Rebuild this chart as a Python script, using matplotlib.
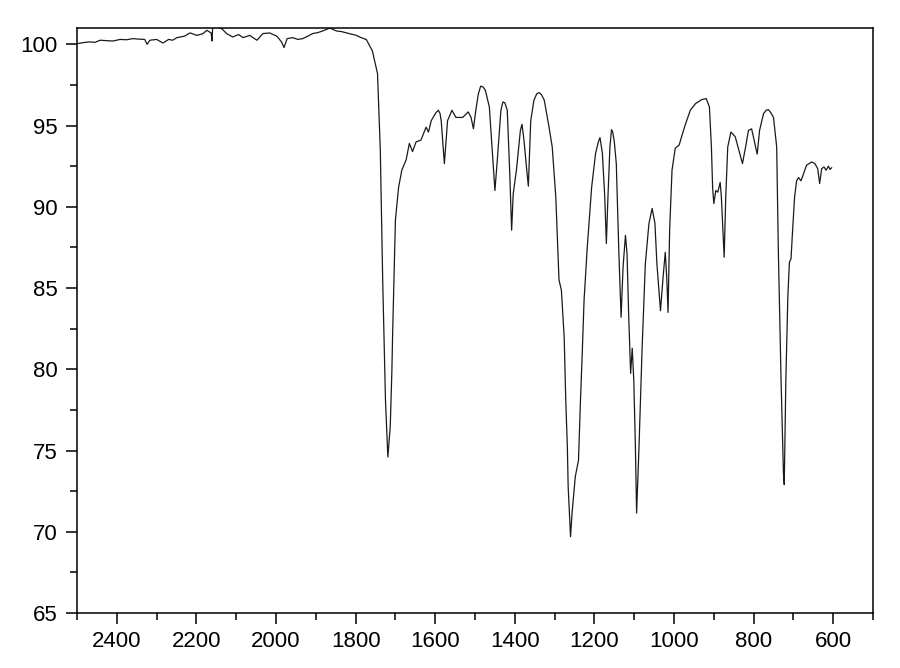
import matplotlib
matplotlib.use("Agg")
import matplotlib.pyplot as plt
from matplotlib.ticker import MultipleLocator

# IR spectrum (wavenumber cm-1, transmittance %)
wavenumber = [
    2500, 2485, 2470, 2455, 2442, 2425, 2410, 2392, 2375, 2360, 2345, 2330,
    2324, 2317, 2300, 2284, 2270, 2260, 2249, 2230, 2216, 2199, 2184, 2174,
    2163, 2161, 2159, 2146, 2136, 2124, 2109, 2094, 2083, 2066, 2048, 2033,
    2016, 1998, 1986, 1980, 1972, 1958, 1945, 1933, 1920, 1908, 1895, 1883,
    1865, 1848, 1835, 1823, 1810, 1798, 1790, 1773, 1758, 1745, 1738, 1732,
    1725, 1719, 1713, 1709, 1707, 1700, 1692, 1684, 1673, 1665, 1657, 1648,
    1636, 1623, 1617, 1610, 1598, 1592, 1588, 1585, 1577, 1569, 1558, 1548,
    1531, 1517, 1510, 1504, 1498, 1492, 1486, 1480, 1474, 1464, 1456, 1450,
    1444, 1435, 1430, 1425, 1419, 1413, 1408, 1404, 1396, 1386, 1382, 1377,
    1370, 1366, 1360, 1352, 1345, 1339, 1333, 1326, 1314, 1306, 1297, 1289,
    1283, 1276, 1272, 1268, 1266, 1260, 1256, 1248, 1240, 1235, 1230, 1226,
    1218, 1207, 1197, 1190, 1186, 1180, 1174, 1170, 1166, 1161, 1157, 1154,
    1150, 1145, 1139, 1133, 1128, 1122, 1118, 1114, 1109, 1105, 1101, 1097,
    1094, 1088, 1080, 1072, 1063, 1055, 1048, 1043, 1034, 1028, 1022, 1018,
    1015, 1011, 1005, 997, 987, 980, 971, 959, 946, 930, 919, 911,
    906, 903, 900, 895, 890, 884, 881, 877, 874, 870, 865, 857,
    851, 846, 835, 828, 820, 813, 805, 796, 791, 785, 775, 768,
    763, 757, 750, 742, 738, 731, 725, 723, 719, 714, 710, 706,
    702, 697, 692, 687, 681, 675, 667, 654, 646, 639, 634, 629,
    623, 618, 612, 608, 604,
]
transmittance = [
    100.04, 100.1, 100.15, 100.12, 100.25, 100.22, 100.2, 100.3, 100.28, 100.35, 100.32, 100.3,
    100.0, 100.25, 100.3, 100.08, 100.3, 100.25, 100.41, 100.5, 100.7, 100.55, 100.65, 100.86,
    100.7, 100.2, 101.1, 101.05, 100.95, 100.66, 100.45, 100.6, 100.41, 100.55, 100.25, 100.66,
    100.7, 100.5, 100.14, 99.8, 100.35, 100.41, 100.3, 100.35, 100.5, 100.66, 100.72, 100.82,
    101.0, 100.82, 100.78, 100.7, 100.62, 100.55, 100.45, 100.29, 99.6, 98.2, 93.5, 85.5,
    78.1, 74.6, 76.5, 79.8, 82.2, 89.2, 91.2, 92.25, 92.9, 93.9, 93.4, 94.0,
    94.1, 94.9, 94.6, 95.3, 95.8, 95.94, 95.75, 95.3, 92.66, 95.3, 95.94, 95.5,
    95.5, 95.84, 95.5, 94.8, 95.94, 96.9, 97.42, 97.38, 97.17, 96.14, 93.2, 91.0,
    92.87, 95.94, 96.45, 96.4, 95.94, 92.25, 88.56, 90.8, 92.25, 94.7, 95.08, 94.1,
    92.25, 91.27, 95.3, 96.56, 96.95, 97.03, 96.9, 96.56, 94.9, 93.68, 90.6, 85.5,
    84.87, 82.0, 78.1, 75.23, 72.8, 69.7, 71.2, 73.4, 74.4, 78.1, 81.4, 84.26,
    87.5, 91.2, 93.3, 94.0, 94.26, 93.3, 90.6, 87.74, 90.6, 93.7, 94.75, 94.6,
    94.0, 92.66, 87.5, 83.2, 86.3, 88.25, 87.1, 83.4, 79.75, 81.3, 79.3, 75.2,
    71.15, 75.2, 81.4, 86.5, 88.97, 89.9, 89.0, 86.5, 83.6, 85.5, 87.2, 85.5,
    83.5, 88.56, 92.25, 93.6, 93.8, 94.4, 95.1, 95.94, 96.35, 96.6, 96.66, 96.14,
    93.68, 91.2, 90.2, 91.0, 90.9, 91.5, 90.6, 88.56, 86.9, 90.6, 93.68, 94.6,
    94.45, 94.3, 93.3, 92.66, 93.7, 94.7, 94.8, 93.8, 93.24, 94.7, 95.74, 95.95,
    95.98, 95.8, 95.5, 93.68, 87.5, 79.3, 73.6, 72.9, 79.3, 84.46, 86.6, 86.8,
    88.56, 90.6, 91.6, 91.8, 91.6, 92.0, 92.56, 92.76, 92.66, 92.35, 91.43, 92.35,
    92.45, 92.25, 92.5, 92.3, 92.4,
]

plt.rcParams['font.family'] = ['Liberation Sans', 'DejaVu Sans']

fig = plt.figure(figsize=(9, 6.68), dpi=100)
ax = fig.add_axes([0.0856, 0.0823, 0.8844, 0.8757])

ax.plot(wavenumber, transmittance, color='#1a1a1a', linewidth=0.9)

ax.set_xlim(2500, 500)
ax.set_ylim(65, 101)

ax.xaxis.set_major_locator(MultipleLocator(200))
ax.xaxis.set_minor_locator(MultipleLocator(100))
ax.yaxis.set_major_locator(MultipleLocator(5))
ax.yaxis.set_minor_locator(MultipleLocator(2.5))

ax.tick_params(which='both', direction='out', width=1.1, top=False, right=False,
               labelsize=16, color='black')
ax.tick_params(which='major', length=8)
ax.tick_params(which='minor', length=5)
ax.tick_params(axis='y', pad=6)
ax.tick_params(axis='x', pad=5)

for s in ax.spines.values():
    s.set_linewidth(1.1)

fig.savefig("out.png", dpi=100)
